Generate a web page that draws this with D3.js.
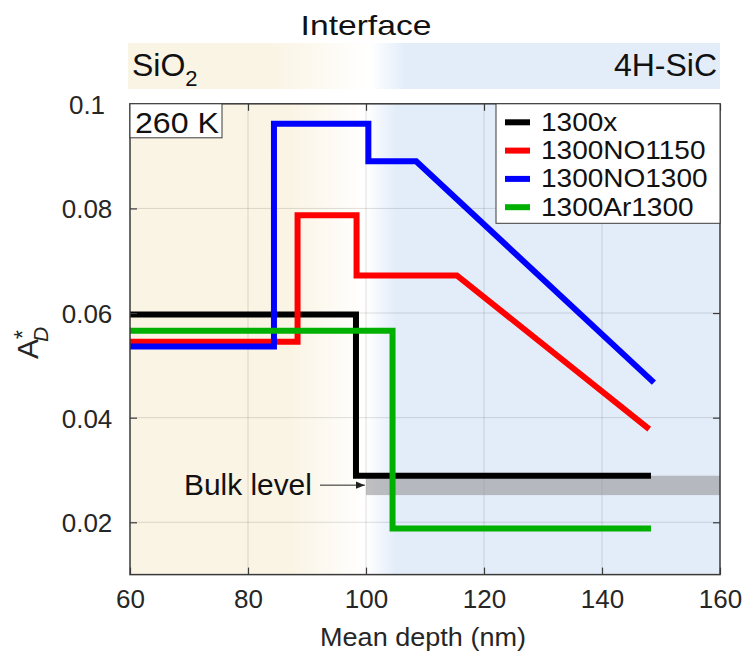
<!DOCTYPE html>
<html>
<head>
<meta charset="utf-8">
<script src="https://cdn.jsdelivr.net/npm/d3@7"></script>
<style>
  html, body { margin: 0; padding: 0; background: #fff; }
  svg { display: block; font-family: "Liberation Sans", Arial, Helvetica, sans-serif; }
</style>
</head>
<body>
<svg id="chart" width="746" height="652"></svg>
<script>
// ---------- data ----------
const seriesNames = ["1300x", "1300NO1150", "1300NO1300", "1300Ar1300"];
const seriesColors = ["#000000", "#ff0000", "#0000ff", "#00b000"];
const depth1300x      = [60, 98.3, 98.3, 148.3];
const ad1300x         = [0.0597, 0.0597, 0.0289, 0.0289];
const depth1300NO1150 = [60, 88.4, 88.4, 98.4, 98.4, 115.4, 148.0];
const ad1300NO1150    = [0.0545, 0.0545, 0.0787, 0.0787, 0.0672, 0.0672, 0.0378];
const depth1300NO1300 = [60, 84.4, 84.4, 100.4, 100.4, 108.5, 148.8];
const ad1300NO1300    = [0.0536, 0.0536, 0.0962, 0.0962, 0.0890, 0.0890, 0.0467];
const depth1300Ar1300 = [60, 104.5, 104.5, 148.3];
const ad1300Ar1300    = [0.0566, 0.0566, 0.0188, 0.0188];
const bulkDepth = [100, 160];
const bulkLevel = [0.0252, 0.0289];
const xTicks = [60, 80, 100, 120, 140, 160];
const xTickLabels = ["60", "80", "100", "120", "140", "160"];
const yTicks = [0.02, 0.04, 0.06, 0.08, 0.1];
const yTickLabels = ["0.02", "0.04", "0.06", "0.08", "0.1"];
const interfaceDepth = 100;

const seriesDepths = [depth1300x, depth1300NO1150, depth1300NO1300, depth1300Ar1300];
const seriesValues = [ad1300x, ad1300NO1150, ad1300NO1300, ad1300Ar1300];

// ---------- layout ----------
const svg = d3.select("#chart");
const L = 130, R = 720, T = 103.8, B = 574.6;
const x = d3.scaleLinear().domain([60, 160]).range([L, R]);
const y = d3.scaleLinear().domain([0.01, 0.1]).range([B, T]);
const W = R - L, H = B - T;
const cream = "rgb(250,244,228)", blue = "rgb(227,237,250)";
const axisColor = "#3a3a3a", textColor = "#262626";

function stretch(sel, f) {
  sel.each(function () {
    const w = this.getComputedTextLength();
    d3.select(this).attr("textLength", w * f).attr("lengthAdjust", "spacingAndGlyphs");
  });
}

const defs = svg.append("defs");
function grad(id, stops) {
  const g = defs.append("linearGradient").attr("id", id)
    .attr("gradientUnits", "userSpaceOnUse")
    .attr("x1", L).attr("x2", R).attr("y1", 0).attr("y2", 0);
  stops.forEach(s => g.append("stop").attr("offset", (s[0] - L) / W).attr("stop-color", s[1]));
}
grad("plotBg", [[x(87), cream], [x(interfaceDepth), "#ffffff"], [x(105), blue]]);
grad("bandBg", [[x(84), cream], [x(interfaceDepth + 0.8), "#ffffff"], [x(106.5), blue]]);

// top band
svg.append("rect").attr("x", 128).attr("y", 43).attr("width", R - 128).attr("height", 46)
  .attr("fill", "url(#bandBg)");
svg.append("text").attr("x", x(interfaceDepth)).attr("y", 35).attr("text-anchor", "middle")
  .attr("font-size", 28).attr("fill", "#111").text("Interface").call(stretch, 1.2);
const sio = svg.append("text").attr("x", 132).attr("y", 76).attr("font-size", 32).attr("fill", "#111");
sio.append("tspan").text("SiO");
sio.append("tspan").attr("font-size", 22).attr("dy", 10).text("2");
svg.append("text").attr("x", 717).attr("y", 76).attr("text-anchor", "end")
  .attr("font-size", 32).attr("fill", "#111").text("4H-SiC");

// plot background
svg.append("rect").attr("x", L).attr("y", T).attr("width", W).attr("height", H).attr("fill", "url(#plotBg)");

// grid
const grid = svg.append("g");
grid.selectAll("line.gx").data(xTicks.slice(1, -1)).join("line")
  .attr("x1", d => x(d)).attr("x2", d => x(d)).attr("y1", T).attr("y2", B)
  .attr("stroke", "rgba(0,0,0,0.13)").attr("stroke-width", 1);
grid.selectAll("line.gy").data(yTicks).join("line")
  .attr("x1", L).attr("x2", R).attr("y1", d => y(d)).attr("y2", d => y(d))
  .attr("stroke", "rgba(0,0,0,0.13)").attr("stroke-width", 1);

// bulk band
svg.append("rect").attr("x", x(bulkDepth[0])).attr("y", y(bulkLevel[1]))
  .attr("width", x(bulkDepth[1]) - x(bulkDepth[0])).attr("height", y(bulkLevel[0]) - y(bulkLevel[1]))
  .attr("fill", "rgb(150,148,152)").attr("fill-opacity", 0.6);

// lines
const line = d3.line().x(d => x(d[0])).y(d => y(d[1]));
seriesNames.forEach((name, i) => {
  const pts = seriesDepths[i].map((d, j) => [d, seriesValues[i][j]]);
  svg.append("path").datum(pts).attr("d", line)
    .attr("fill", "none").attr("stroke", seriesColors[i]).attr("stroke-width", 6)
    .attr("stroke-linejoin", "miter").attr("stroke-linecap", "butt");
});

// axes (inward ticks, box)
const tickLen = 7;
const gx = svg.append("g").attr("transform", `translate(0,${B})`)
  .call(d3.axisBottom(x).tickValues(xTicks).tickFormat((d, i) => xTickLabels[i]).tickSize(-tickLen).tickPadding(14));
const gxt = svg.append("g").attr("transform", `translate(0,${T})`)
  .call(d3.axisTop(x).tickValues(xTicks).tickFormat("").tickSize(-tickLen));
const gy = svg.append("g").attr("transform", `translate(${L},0)`)
  .call(d3.axisLeft(y).tickValues(yTicks).tickFormat((d, i) => yTickLabels[i]).tickSize(-tickLen).tickPadding(10));
const gyr = svg.append("g").attr("transform", `translate(${R},0)`)
  .call(d3.axisRight(y).tickValues(yTicks).tickFormat("").tickSize(-tickLen));
[gx, gxt, gy, gyr].forEach(g => {
  g.select(".domain").remove();
  g.selectAll(".tick line").attr("stroke", axisColor).attr("stroke-width", 1.2);
  g.selectAll("text").attr("fill", textColor).attr("font-size", 26)
    .attr("font-family", "\"Liberation Sans\", Arial, sans-serif");
});
gx.selectAll(".tick text").attr("dy", null).attr("y", 33);
gy.selectAll(".tick text").attr("text-anchor", "middle").attr("x", 87 - L).attr("dy", "0.36em");
svg.append("rect").attr("x", L).attr("y", T).attr("width", W).attr("height", H)
  .attr("fill", "none").attr("stroke", axisColor).attr("stroke-width", 1.5);

// axis labels
svg.append("text").attr("x", (L + R) / 2 - 2).attr("y", 646).attr("text-anchor", "middle")
  .attr("font-size", 26).attr("fill", textColor).text("Mean depth (nm)").call(stretch, 1.04);
const yl = svg.append("text").attr("transform", "translate(38,359) rotate(-90)")
  .attr("font-size", 30).attr("fill", textColor);
yl.append("tspan").text("A");
yl.append("tspan").attr("font-size", 23).attr("dy", -7).text("*");
yl.append("tspan").attr("font-size", 21).attr("font-style", "italic").attr("dx", -12).attr("dy", 17).text("D");

// 260 K box
svg.append("rect").attr("x", L).attr("y", T).attr("width", 92).attr("height", 34)
  .attr("fill", "#fff").attr("stroke", axisColor).attr("stroke-width", 1);
svg.append("text").attr("x", 135).attr("y", 133).attr("font-size", 30).attr("fill", "#111")
  .text("260 K").call(stretch, 1.07);

// bulk level annotation
svg.append("text").attr("x", 184).attr("y", 495).attr("font-size", 29).attr("fill", "#111")
  .text("Bulk level").call(stretch, 1.03);
defs.append("marker").attr("id", "arr").attr("viewBox", "0 0 10 10").attr("refX", 10).attr("refY", 5)
  .attr("markerWidth", 9).attr("markerHeight", 9).attr("markerUnits", "userSpaceOnUse").attr("orient", "auto")
  .append("path").attr("d", "M0,1 L10,5 L0,9 Z").attr("fill", "#222");
svg.append("line").attr("x1", 320).attr("x2", x(99.8)).attr("y1", y(0.0271)).attr("y2", y(0.0271))
  .attr("stroke", "#222").attr("stroke-width", 1).attr("marker-end", "url(#arr)");

// legend
const lg = svg.append("g");
lg.append("rect").attr("x", 496).attr("y", T).attr("width", R - 496).attr("height", 119.5)
  .attr("fill", "#fff").attr("stroke", axisColor).attr("stroke-width", 1);
seriesNames.forEach((name, i) => {
  const cy = 122.3 + i * 28.3;
  lg.append("line").attr("x1", 505).attr("x2", 530).attr("y1", cy).attr("y2", cy)
    .attr("stroke", seriesColors[i]).attr("stroke-width", 6);
  lg.append("text").attr("x", 541).attr("y", cy + 8.5).attr("font-size", 25).attr("fill", "#111")
    .text(name).call(stretch, 1.12);
});
</script>
</body>
</html>
